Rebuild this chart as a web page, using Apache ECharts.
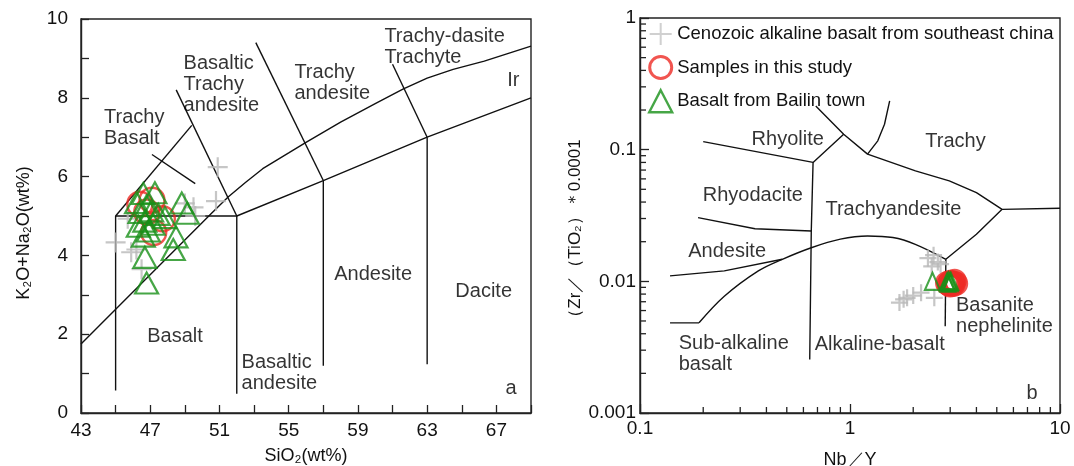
<!DOCTYPE html>
<html>
<head>
<meta charset="utf-8">
<script src="https://cdn.jsdelivr.net/npm/echarts@6/dist/echarts.min.js"></script>
<style>
  html, body { margin: 0; padding: 0; background: #fff; }
  #chart { width: 1074px; height: 466px; }
</style>
</head>
<body>
<div id="chart"></div>
<script>
// ---------- (a) TAS diagram: SiO2 vs K2O+Na2O ----------
const tasCenozoic = [
  [50.9, 6.24], [50.8, 5.38], [49.0, 5.32], [49.5, 5.22], [49.6, 5.0],
  [45.7, 4.93], [45.0, 4.33], [45.9, 4.08], [46.2, 4.15], [46.5, 3.65]
];
const tasSamples = [
  [46.4, 5.30], [47.1, 5.40], [46.8, 5.10], [47.7, 4.93], [47.2, 4.58]
];
const tasBailin = [
  [46.6, 5.57], [47.27, 5.59], [48.82, 5.33], [49.14, 5.07], [46.21, 5.34],
  [46.79, 5.26], [46.41, 5.09], [47.08, 5.13], [47.46, 5.04], [46.69, 4.87],
  [47.17, 4.79], [46.31, 4.74], [46.89, 4.62], [47.85, 4.96], [46.6, 4.49],
  [48.49, 4.47], [48.33, 4.15], [46.69, 3.95], [46.79, 3.30]
];

// field boundaries of the TAS diagram
const tasIrvine = [
  [43, 1.75], [50.5, 5.05], [51.5, 5.48], [52.5, 5.85], [53.5, 6.2], [55, 6.6],
  [56, 6.87], [58, 7.38], [60, 7.85], [61.6, 8.22], [63, 8.5], [64.5, 8.72],
  [66.3, 8.93], [69, 9.31]
];
const tasBoundaries = [
  [[52, 5], [57, 5.9], [63, 7], [69, 8]],
  [[45, 0.57], [45, 5], [52, 5]],
  [[52, 0.49], [52, 5]],
  [[57, 1.2], [57, 5.9]],
  [[63, 1.24], [63, 7]],
  [[45, 5], [49.4, 7.3]],
  [[52, 5], [48.5, 8.2]],
  [[57, 5.9], [53.1, 9.4]],
  [[63, 7], [61, 8.85]],
  [[47.1, 6.56], [49.6, 5.82]]
];
const tasFieldNames = [
  [44.3, 7.24, 'Trachy\nBasalt'],
  [48.9, 8.35, 'Basaltic\nTrachy\nandesite'],
  [55.3, 8.37, 'Trachy\nandesite'],
  [60.5, 9.30, 'Trachy-dasite\nTrachyte'],
  [67.6, 8.45, 'Ir'],
  [57.6, 3.51, 'Andesite'],
  [64.6, 3.08, 'Dacite'],
  [46.8, 1.94, 'Basalt'],
  [52.25, 1.02, 'Basaltic\nandesite'],
  [67.5, 0.62, 'a']
];

// ---------- (b) Nb/Y vs Zr/TiO2 ----------
const wfCenozoic = [
  [1.72, 0.0069], [1.80, 0.0073], [1.87, 0.0075], [2.0, 0.0078], [2.18, 0.0082],
  [2.52, 0.0075], [2.35, 0.0150], [2.50, 0.0158], [2.62, 0.0140], [2.45, 0.0130],
  [2.70, 0.0135]
];
const wfSamples = [
  [2.90, 0.0097], [3.00, 0.0099], [3.10, 0.0098], [3.20, 0.0096], [3.00, 0.0093],
  [3.10, 0.0094], [2.95, 0.0095], [3.15, 0.0101], [3.05, 0.0096]
];
const wfBailin = [
  [2.47, 0.0100], [2.90, 0.0099], [2.95, 0.0101], [3.00, 0.0098], [2.92, 0.0097],
  [3.02, 0.0100]
];

const wfBoundaries = [
  [[0.2, 0.115], [0.667, 0.08], [0.933, 0.131]],
  [[0.687, 0.215], [0.933, 0.131], [1.212, 0.0925], [2.05, 0.069], [2.97, 0.058],
   [4.0, 0.0472], [5.3, 0.0352], [10, 0.0359]],
  [[1.212, 0.0925], [1.356, 0.1167], [1.46, 0.156], [1.545, 0.235]],
  [[0.667, 0.08], [0.654, 0.0241], [0.643, 0.00255]],
  [[0.189, 0.0305], [0.353, 0.0251], [0.654, 0.0241]],
  [[0.139, 0.011], [0.252, 0.012], [0.476, 0.0147]],
  [[0.139, 0.00484], [0.191, 0.00484]],
  [[2.86, 0.0147], [4.0, 0.0228], [5.3, 0.0352]],
  [[2.86, 0.0147], [2.84, 0.00456]]
];
const wfCurve = [
  [0.191, 0.00484], [0.252, 0.0077], [0.366, 0.012], [0.476, 0.0147], [0.654, 0.018],
  [0.9, 0.0209], [1.212, 0.0221], [1.6, 0.0215], [2.046, 0.0191], [2.86, 0.0147]
];
const wfFieldNames = [
  [0.338, 0.120, 'Rhyolite'],
  [2.27, 0.1146, 'Trachy'],
  [0.198, 0.0445, 'Rhyodacite'],
  [0.760, 0.0352, 'Trachyandesite'],
  [0.1687, 0.0170, 'Andesite'],
  [3.18, 0.00548, 'Basanite\nnephelinite'],
  [0.152, 0.00281, 'Sub-alkaline\nbasalt'],
  [0.675, 0.00330, 'Alkaline-basalt'],
  [6.89, 0.0014, 'b']
];

// minor ticks of the log axes
const logMinorX = [0.2, 0.3, 0.4, 0.5, 0.6, 0.7, 0.8, 0.9, 2, 3, 4, 5, 6, 7, 8, 9];
const logMinorY = [0.002, 0.003, 0.004, 0.005, 0.006, 0.007, 0.008, 0.009,
                   0.02, 0.03, 0.04, 0.05, 0.06, 0.07, 0.08, 0.09,
                   0.2, 0.3, 0.4, 0.5, 0.6, 0.7, 0.8, 0.9];

const NAME_CENO = 'Cenozoic alkaline basalt from southeast china';
const NAME_SAMPLE = 'Samples in this study';
const NAME_BAILIN = 'Basalt from Bailin town';

const FONT = '"Liberation Sans", Arial, sans-serif';
const INK = '#000';
const RED = '#ee2a24';
const GREEN = '#189018';
const GREY = '#b8b8b8';
const CROSS = 'path://M10,0V20M0,10H20';

function boundary(points, gi, smooth) {
  return {
    type: 'line', xAxisIndex: gi, yAxisIndex: gi, data: points,
    symbol: 'none', smooth: smooth || false, silent: true, z: 2,
    lineStyle: { color: '#111', width: 1.4 }
  };
}

function fieldNames(items, gi) {
  return {
    type: 'scatter', xAxisIndex: gi, yAxisIndex: gi, silent: true, z: 3,
    symbolSize: 1, itemStyle: { color: 'rgba(0,0,0,0)' },
    data: items.map(([x, y, t]) => ({ value: [x, y], label: { formatter: t } })),
    label: {
      show: true, position: 'right', distance: 0,
      fontFamily: FONT, fontSize: 20, color: INK, lineHeight: 21, align: 'left',
      textBorderWidth: 0
    }
  };
}

function pointSeries(name, data, gi, kind, small) {
  const s = {
    type: 'scatter', name, data, xAxisIndex: gi, yAxisIndex: gi, z: 4, silent: true
  };
  if (kind === 'cross') {
    s.symbol = CROSS; s.symbolSize = small ? 17 : 20; s.z = 3;
    s.itemStyle = { color: 'rgba(0,0,0,0)', borderColor: GREY, borderWidth: 2.2 };
  } else if (kind === 'circle') {
    s.symbol = 'circle'; s.symbolSize = small ? 21 : 25;
    s.itemStyle = { color: 'rgba(0,0,0,0)', borderColor: RED, borderWidth: small ? 3.2 : 2.4 };
  } else {
    s.symbol = 'triangle'; s.symbolSize = small ? [15, 17] : [23, 21]; s.z = 5;
    s.itemStyle = { color: 'rgba(0,0,0,0)', borderColor: GREEN, borderWidth: 2.2 };
  }
  return s;
}

function minorTicks(values, horizontal) {
  return {
    type: 'custom', xAxisIndex: 1, yAxisIndex: 1, silent: true, z: 6, clip: false,
    data: values.map(v => horizontal ? [v, 0.001] : [0.1, v]),
    renderItem: (params, api) => {
      const p = api.coord([api.value(0), api.value(1)]);
      const shape = horizontal
        ? { x1: p[0], y1: p[1], x2: p[0], y2: p[1] - 6 }
        : { x1: p[0], y1: p[1], x2: p[0] + 6, y2: p[1] };
      return { type: 'line', shape, style: { stroke: '#222', lineWidth: 1.3 } };
    }
  };
}

const logLabel = v => String(+(+v).toPrecision(2));
const axisLine = { show: true, lineStyle: { color: '#222', width: 1.4 } };
const tickStyle = len => ({ show: true, inside: true, length: len, lineStyle: { color: '#222', width: 1.3 } });
const tickText = { fontFamily: FONT, fontSize: 19, color: '#111' };
const nameText = { fontFamily: FONT, fontSize: 18, color: '#111' };

const chart = echarts.init(document.getElementById('chart'), null, { renderer: 'canvas' });

chart.setOption({
  backgroundColor: '#fff',
  animation: false,
  grid: [
    { left: 81, top: 19, width: 450, height: 394, show: true, borderColor: '#222', borderWidth: 1.4,
      containLabel: false, outerBoundsMode: 'none' },
    { left: 640, top: 18, width: 420, height: 395, show: true, borderColor: '#222', borderWidth: 1.4,
      containLabel: false, outerBoundsMode: 'none' }
  ],
  xAxis: [
    {
      gridIndex: 0, type: 'value', min: 43, max: 69, interval: 2,
      axisLine, axisTick: tickStyle(8), splitLine: { show: false },
      axisLabel: Object.assign({ margin: 8, formatter: v => ((v - 43) % 4 === 0 ? String(v) : '') }, tickText),
      name: 'SiO₂(wt%)', nameLocation: 'middle', nameGap: 34, nameTextStyle: nameText
    },
    {
      gridIndex: 1, type: 'log', logBase: 10, min: 0.1, max: 10,
      axisLine, axisTick: tickStyle(9), splitLine: { show: false },
      axisLabel: Object.assign({ margin: 6, formatter: logLabel }, tickText),
      name: 'Nb／Y', nameLocation: 'middle', nameGap: 38, nameTextStyle: nameText
    }
  ],
  yAxis: [
    {
      gridIndex: 0, type: 'value', min: 0, max: 10, interval: 1,
      axisLine, axisTick: tickStyle(8), splitLine: { show: false },
      axisLabel: Object.assign({ margin: 13, formatter: v => (v % 2 === 0 ? String(v) : '') }, tickText),
      name: 'K₂O+Na₂O(wt%)', nameLocation: 'middle', nameGap: 48,
      nameTextStyle: Object.assign({ padding: [0, 34, 0, 0] }, nameText)
    },
    {
      gridIndex: 1, type: 'log', logBase: 10, min: 0.001, max: 1,
      axisLine, axisTick: tickStyle(9), splitLine: { show: false },
      axisLabel: Object.assign({ margin: 4, formatter: logLabel }, tickText),
      name: '（Zr／（TiO₂）＊0.0001', nameLocation: 'middle', nameGap: 56,
      nameTextStyle: Object.assign({ padding: [0, 34, 0, 0] }, nameText, { fontSize: 17 })
    }
  ],
  legend: {
    left: 648, top: 22, padding: 0, orient: 'vertical', itemWidth: 23, itemHeight: 22, itemGap: 9,
    selectedMode: false,
    textStyle: { fontFamily: FONT, fontSize: 18.5, color: '#111' },
    data: [
      { name: NAME_CENO, icon: CROSS, itemStyle: { color: 'rgba(0,0,0,0)', borderColor: '#c4c4c4', borderWidth: 2 } },
      { name: NAME_SAMPLE, icon: 'circle', itemStyle: { color: 'rgba(0,0,0,0)', borderColor: RED, borderWidth: 3 } },
      { name: NAME_BAILIN, icon: 'triangle', itemStyle: { color: 'rgba(0,0,0,0)', borderColor: GREEN, borderWidth: 2.4 } }
    ]
  },
  series: [
    boundary(tasIrvine, 0),
    ...tasBoundaries.map(b => boundary(b, 0)),
    fieldNames(tasFieldNames, 0),
    pointSeries(NAME_CENO, tasCenozoic, 0, 'cross'),
    pointSeries(NAME_SAMPLE, tasSamples, 0, 'circle'),
    pointSeries(NAME_BAILIN, tasBailin, 0, 'triangle'),

    ...wfBoundaries.map(b => boundary(b, 1)),
    boundary(wfCurve, 1, 0.35),
    fieldNames(wfFieldNames, 1),
    pointSeries(NAME_CENO, wfCenozoic, 1, 'cross', true),
    pointSeries(NAME_SAMPLE, wfSamples, 1, 'circle', true),
    pointSeries(NAME_BAILIN, wfBailin, 1, 'triangle', true),
    minorTicks(logMinorX, true),
    minorTicks(logMinorY, false)
  ]
});
</script>
</body>
</html>
